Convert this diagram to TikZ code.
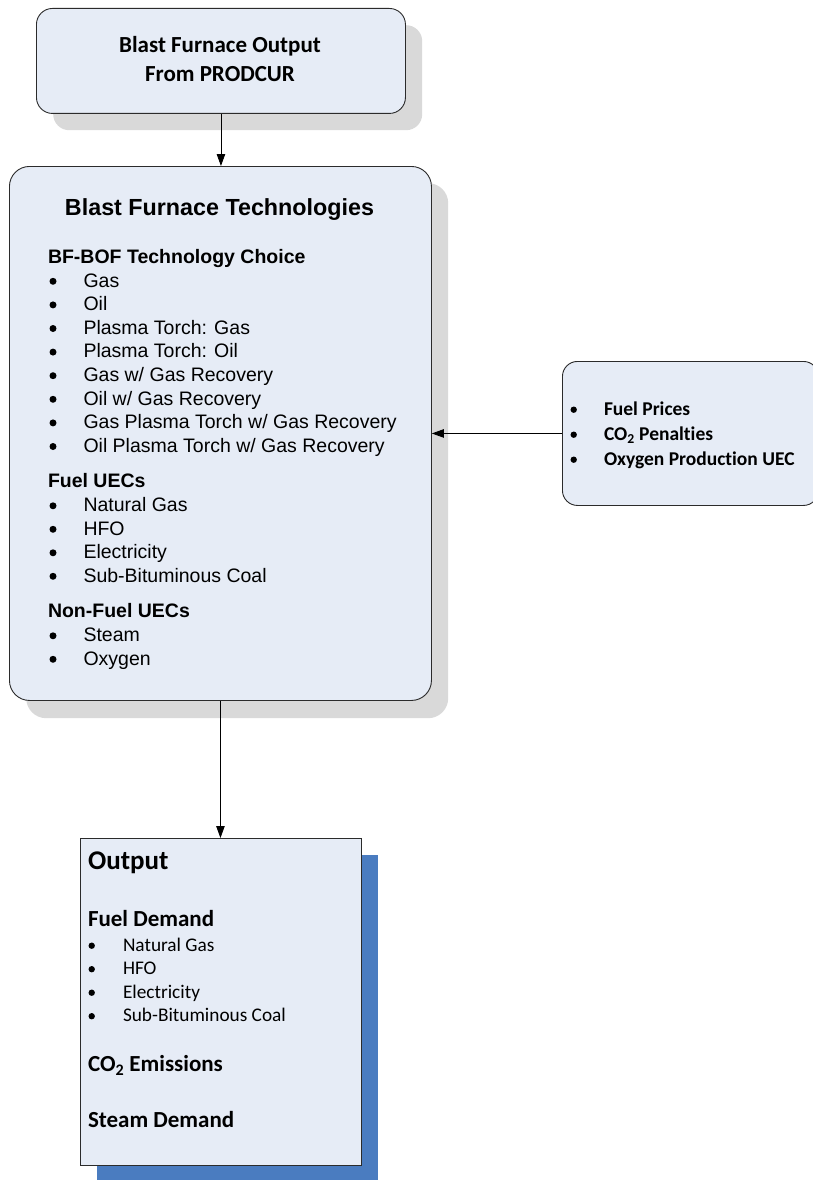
\documentclass[tikz,border=0pt]{standalone}
\usepackage{fontspec}
\setmainfont{Liberation Sans}
\newfontfamily\calibrif[Ligatures=NoCommon]{Carlito}
\usetikzlibrary{arrows.meta}
\definecolor{boxfill}{HTML}{E6ECF6}
\definecolor{shadegray}{HTML}{D9D9D9}
\definecolor{blueshade}{HTML}{4A7CC0}
\definecolor{edgecol}{HTML}{2B2B2B}
\begin{document}
\begin{tikzpicture}[x=1pt,y=-1pt,
  boxshape/.style={draw=edgecol,line width=0.9pt,fill=boxfill,inner sep=0pt,anchor=north west},
  shadowshape/.style={fill=shadegray,draw=none,inner sep=0pt,anchor=north west},
  arr/.style={draw=black,line width=0.8pt,-{Triangle[length=12pt,width=8.5pt]}},
  dot/.style={circle,fill=black,draw=none,inner sep=0pt,minimum size=7pt},
  smalldot/.style={dot,minimum size=6.4pt},
  txt/.style={anchor=base west,inner sep=0pt,outer sep=0pt},
  ctxt/.style={anchor=base,inner sep=0pt,outer sep=0pt},
  arialitem/.style={txt,font=\fontsize{19.5}{23.5}\selectfont},
  arialhead/.style={txt,font=\fontsize{19.5}{23.5}\selectfont\bfseries},
  calitem/.style={txt,font=\calibrif\fontsize{19.3}{23.5}\selectfont},
  calbold/.style={txt,font=\calibrif\bfseries\fontsize{19.5}{25}\selectfont},
  calhead/.style={txt,font=\calibrif\bfseries\fontsize{23}{28}\selectfont}]
\useasboundingbox (0,0) rectangle (813,1180);

% ---- shadows ----
\node[shadowshape,rounded corners=16pt,minimum width=369pt,minimum height=105pt] (topshadow) at (53,25) {};
\node[shadowshape,rounded corners=20pt,minimum width=422pt,minimum height=535pt] (mainshadow) at (26,183) {};
\node[shadowshape,fill=blueshade,minimum width=281pt,minimum height=330pt] (outshadow) at (97,855) {};

% ---- boxes ----
\node[boxshape,rounded corners=16pt,minimum width=369pt,minimum height=105pt] (top) at (36,8) {};
\node[boxshape,rounded corners=20pt,minimum width=422pt,minimum height=534pt] (main) at (9,166) {};
\node[boxshape,rounded corners=15pt,minimum width=256pt,minimum height=144pt] (rbox) at (562,361) {};
\node[boxshape,minimum width=281pt,minimum height=327pt] (out) at (80,838) {};

% ---- connectors ----
\draw[arr] (top.south) -- (top.south |- main.north);
\draw[arr] (rbox.west) -- (rbox.west -| main.east);
\draw[arr] (main.south) -- (main.south |- out.north);

% ---- top box text ----
\node[ctxt,font=\calibrif\bfseries\fontsize{23}{28}\selectfont] (t1) at (220,53) {Blast Furnace Output};
\node[ctxt,font=\calibrif\bfseries\fontsize{23}{28}\selectfont] (t2) at (220,81.7) {From PRODCUR};

% ---- main box text ----
\node[ctxt,font=\fontsize{23.3}{28}\selectfont\bfseries] (mtitle) at (219.5,215) {Blast Furnace Technologies};
\node[arialhead] (h1) at (48,263) {BF-BOF Technology Choice};
\foreach \t [count=\i from 0] in {Gas,Oil,Plasma Torch: Gas,Plasma Torch: Oil,Gas w/ Gas Recovery,Oil w/ Gas Recovery,Gas Plasma Torch w/ Gas Recovery,Oil Plasma Torch w/ Gas Recovery}{
  \node[dot] (ab\i) at (53,287+23.6*\i-5.7) {};
  \node[arialitem] (a\i) at (83.5,287+23.6*\i) {\t};
}
\node[arialhead] (h2) at (48,487) {Fuel UECs};
\foreach \t [count=\i from 0] in {Natural Gas,HFO,Electricity,Sub-Bituminous Coal}{
  \node[dot] (bb\i) at (53,511.5+23.5*\i-5.7) {};
  \node[arialitem] (b\i) at (83.5,511.5+23.5*\i) {\t};
}
\node[arialhead] (h3) at (48,617) {Non-Fuel UECs};
\foreach \t [count=\i from 0] in {Steam,Oxygen}{
  \node[dot] (cb\i) at (53,641.5+23.5*\i-5.7) {};
  \node[arialitem] (c\i) at (83.5,641.5+23.5*\i) {\t};
}

% ---- right box text ----
\node[smalldot] (rb1) at (573.7,415-5.3) {};
\node[calbold] (r1) at (604,415) {Fuel Prices};
\node[smalldot] (rb2) at (573.7,440-5.3) {};
\node[calbold] (r2) at (604,440) {CO\textsubscript{2} Penalties};
\node[smalldot] (rb3) at (573.7,465-5.3) {};
\node[calbold] (r3) at (604,465) {Oxygen Production UEC};

% ---- output box text ----
\node[txt,font=\calibrif\bfseries\fontsize{27}{32}\selectfont] (o0) at (88,869) {Output};
\node[calhead] (o1) at (88,926) {Fuel Demand};
\foreach \t [count=\i from 0] in {Natural Gas,HFO,Electricity,Sub-Bituminous Coal}{
  \node[smalldot] (ob\i) at (91.7,951+23.5*\i-5.3) {};
  \node[calitem] (oi\i) at (123,951+23.5*\i) {\t};
}
\node[calhead] (o2) at (88,1071.7) {CO\textsubscript{2} Emissions};
\node[calhead] (o3) at (88,1127.7) {Steam Demand};
\end{tikzpicture}
\end{document}
